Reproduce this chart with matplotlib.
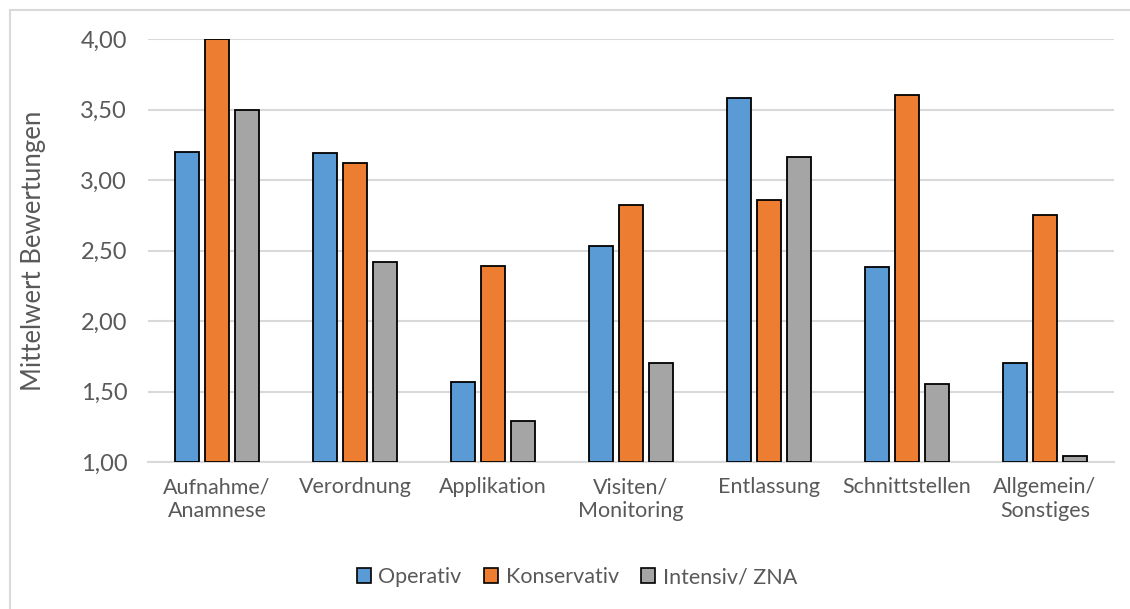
import matplotlib.pyplot as plt
import matplotlib.patches as mpatches
import numpy as np

plt.rcParams["font.family"] = ["Lato", "DejaVu Sans"]

categories = ["Aufnahme/\nAnamnese", "Verordnung", "Applikation", "Visiten/\nMonitoring",
              "Entlassung", "Schnittstellen", "Allgemein/\nSonstiges"]
operativ = [3.20, 3.19, 1.57, 2.53, 3.58, 2.38, 1.70]
konservativ = [4.00, 3.12, 2.39, 2.82, 2.86, 3.60, 2.75]
intensiv = [3.50, 2.42, 1.29, 1.70, 3.16, 1.55, 1.04]
series_names = ["Operativ", "Konservativ", "Intensiv/ ZNA"]
yticks = [1.0, 1.5, 2.0, 2.5, 3.0, 3.5, 4.0]

colors = ["#5B9BD5", "#ED7D31", "#A5A5A5"]
text_color = "#595959"
grid_color = "#D9D9D9"

fig = plt.figure(figsize=(11.3, 6.09), dpi=100)
ax = fig.add_axes([148 / 1130, 1 - 462 / 609, (1114 - 148) / 1130, (462 - 39) / 609])

x = np.arange(len(categories))
width = 0.174
step = 0.217
base = 1.0
for i, (vals, name) in enumerate(zip([operativ, konservativ, intensiv], series_names)):
    heights = np.array(vals) - base
    ax.bar(x + (i - 1) * step, heights, width, bottom=base, color=colors[i],
           edgecolor="black", linewidth=1.3, label=name, zorder=3)

ax.set_xlim(-0.5, len(categories) - 0.5)
ax.set_ylim(1.0, 4.0)
ax.set_yticks(yticks)
ax.set_yticklabels([f"{v:.2f}".replace(".", ",") for v in yticks],
                   fontsize=17, color=text_color)
ax.set_xticks(x)
ax.set_xticklabels(categories, fontsize=15.5, color=text_color, linespacing=1.25)
ax.tick_params(axis="both", length=0)
ax.tick_params(axis="x", pad=11)
ax.tick_params(axis="y", pad=15)
ax.yaxis.grid(True, color=grid_color, linewidth=1.5, zorder=0)
ax.set_axisbelow(True)
for side in ["top", "right", "left"]:
    ax.spines[side].set_visible(False)
ax.spines["bottom"].set_color(grid_color)
ax.spines["bottom"].set_linewidth(1.5)

ax.set_ylabel("Mittelwert Bewertungen", fontsize=18.5, color=text_color)
ax.yaxis.set_label_coords((46 - 148) / 966, 0.5)

handles = [mpatches.Patch(facecolor=c, edgecolor="black", linewidth=1.2, label=n)
           for c, n in zip(colors, series_names)]
leg = fig.legend(handles=handles, loc="center", bbox_to_anchor=(577 / 1130, 1 - 577 / 609),
                 ncol=3, frameon=False, fontsize=15.5, handlelength=0.65,
                 handleheight=0.65, handletextpad=0.35, columnspacing=1.05)
for t in leg.get_texts():
    t.set_color(text_color)

# chart frame
fig.patches.append(mpatches.Rectangle((9.5 / 1130, -0.05), 1.2, (1 - 10 / 609) + 0.05,
                                      transform=fig.transFigure, fill=False,
                                      edgecolor=grid_color, linewidth=1.5))

fig.savefig("out.png", dpi=100)
